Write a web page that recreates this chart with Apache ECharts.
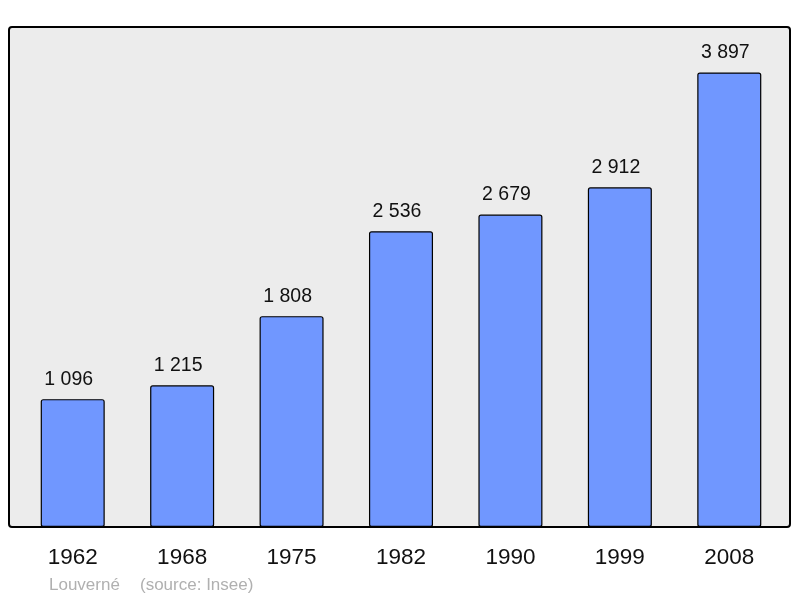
<!DOCTYPE html>
<html>
<head>
<meta charset="utf-8">
<style>
  html, body { margin: 0; padding: 0; background: #fff; }
  #main { width: 800px; height: 598px; }
</style>
<script src="https://cdn.jsdelivr.net/npm/echarts@6/dist/echarts.min.js"></script>
</head>
<body>
<div id="main"></div>
<script>
var years = ['1962', '1968', '1975', '1982', '1990', '1999', '2008'];
var population = [1096, 1215, 1808, 2536, 2679, 2912, 3897];
var townName = 'Louverné';
var sourceText = '(source: Insee)';

// espace comme séparateur de milliers
function fmt(v) {
    return String(v).replace(/\B(?=(\d{3})+(?!\d))/g, ' ');
}

var myChart = echarts.init(document.getElementById('main'));
myChart.setOption({
    animation: false,
    backgroundColor: '#fff',
    textStyle: { fontFamily: 'Liberation Sans, Arial, sans-serif' },
    graphic: [
        {
            type: 'rect',
            z: -10,
            shape: { x: 9, y: 27, width: 781, height: 500, r: 3 },
            style: { fill: '#ececec', stroke: '#000', lineWidth: 2 }
        },
        {
            type: 'text',
            left: 49,
            top: 577,
            style: {
                text: townName,
                fill: '#b0b0b0',
                font: '17px Liberation Sans, Arial, sans-serif'
            }
        },
        {
            type: 'text',
            left: 140,
            top: 577,
            style: {
                text: sourceText,
                fill: '#b0b0b0',
                font: '17px Liberation Sans, Arial, sans-serif'
            }
        }
    ],
    grid: { left: 18, right: 16, top: 27, bottom: 71 },
    xAxis: {
        type: 'category',
        data: years,
        axisLine: { show: false },
        axisTick: { show: false },
        axisLabel: { color: '#111', fontSize: 22.5, margin: 19 }
    },
    yAxis: {
        type: 'value',
        min: 0,
        max: 4287,
        show: false,
        splitLine: { show: false }
    },
    series: [{
        type: 'bar',
        data: population,
        barWidth: '58.5%',
        itemStyle: { color: '#7097ff', borderColor: '#000', borderWidth: 1.2, borderRadius: 2 },
        label: {
            show: true,
            position: 'top',
            distance: 10,
            offset: [-4, 0],
            color: '#111',
            fontSize: 19.5,
            formatter: function (p) { return fmt(p.value); }
        }
    }]
});
</script>
</body>
</html>
